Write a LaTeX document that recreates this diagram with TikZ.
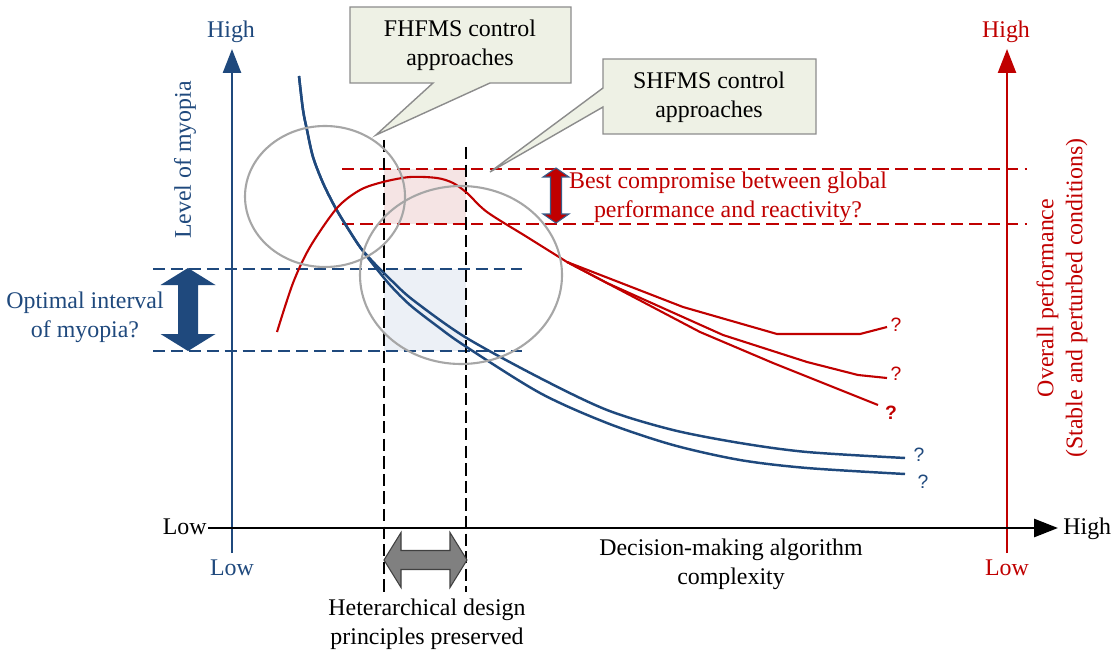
\documentclass[tikz,border=0pt]{standalone}
\usepackage{fontspec}
\setmainfont{Liberation Serif}
\newfontfamily\qmfont{Liberation Sans}
\usetikzlibrary{arrows.meta}
\definecolor{myblue}{RGB}{31,73,125}
\definecolor{myred}{RGB}{192,0,0}
\definecolor{ringgray}{RGB}{166,166,166}
\definecolor{notefill}{RGB}{238,241,229}
\definecolor{notedraw}{RGB}{140,140,140}
\definecolor{arrowblue}{RGB}{56,93,138}
\definecolor{pinkfill}{RGB}{245,228,228}
\definecolor{bluefill}{RGB}{236,240,246}
\definecolor{grayarrow}{RGB}{128,128,128}
\definecolor{grayedge}{RGB}{64,64,64}

\begin{document}
\begin{tikzpicture}[x=0.02cm,y=-0.02cm]
            \tikzset{
                txt/.style={font=\fontsize{13.6}{16.4}\selectfont,inner sep=0pt,align=center},
                qmark/.style={font=\qmfont\fontsize{11}{13}\selectfont,inner sep=0pt},
                axisline/.style={line width=1.4pt,-{Triangle[length=13.6pt,width=10.2pt]}},
                bluedash/.style={myblue,line width=0.7pt,dash pattern=on 6.8pt off 3.4pt},
                reddash/.style={myred,line width=0.7pt,dash pattern=on 7pt off 3.5pt},
                blackdash/.style={black,line width=0.7pt,dash pattern=on 7pt off 3pt},
                ring/.style={ringgray,line width=1.2pt},
                note/.style={fill=notefill,draw=notedraw,line width=0.8pt},
                bluecurve/.style={myblue,line width=1.4pt},
                redcurve/.style={myred,line width=1.2pt,line join=round},}
            \useasboundingbox (0,0) rectangle (1114,655);
            % shaded zones
            \fill [pinkfill] (384,169) rectangle (466,224);
            \fill [bluefill] (384,269) rectangle (466,351);
            % guide lines
            \coordinate (bdl1) at (153,269); \coordinate (bdr1) at (522,269);
            \coordinate (bdl2) at (153,351); \coordinate (bdr2) at (522,351);
            \draw [bluedash] (bdl1) -- (bdr1);
            \draw [bluedash] (bdl2) -- (bdr2);
            \coordinate (rdl1) at (342,169); \coordinate (rdr1) at (1027,169);
            \coordinate (rdl2) at (342,224); \coordinate (rdr2) at (1027,224);
            \draw [reddash] (rdl1) -- (rdr1);
            \draw [reddash] (rdl2) -- (rdr2);
            \coordinate (h1top) at (384,140); \coordinate (h1bot) at (384,592);
            \coordinate (h2top) at (466,147); \coordinate (h2bot) at (466,592);
            \draw [blackdash] (h1top) -- (h1bot);
            \draw [blackdash] (h2top) -- (h2bot);
            % myopia curves
            \draw [bluecurve] plot [smooth] coordinates {(299,76) (303,110) (307,130) (313,157) (323,183) (335,207) (347,227) (360,247) (375,264) (392,281) (413,300) (465,337) (540,378) (607,410) (673,430) (740,443) (807,452) (905,458)};
            \draw [bluecurve] plot [smooth] coordinates {(299,76) (303,110) (307,130) (313,157) (323,183) (335,207) (347,227) (360,247) (372,263) (390,285) (410,305) (437,326) (465,346) (540,393) (607,423) (673,445) (740,460) (807,468) (905,474)};
            % performance curves
            \draw [redcurve] plot [smooth] coordinates {(277,332) (293,283) (310,247) (337,208) (360,190) (383,182) (410,177) (437,178) (453,183) (467,193) (487,212) (527,237) (567,262)};
            \draw [redcurve] (567,262) -- (683,307) -- (777,334) -- (860,334) -- (887,327);
            \draw [redcurve] (567,262) -- (607,283) -- (723,335) -- (807,362) -- (858,375) -- (887,378);
            \draw [redcurve] (567,262) -- (700,332) -- (773,363) -- (878,405);
            % circles
            \draw [ring] (325,196.5) ellipse [x radius=80,y radius=70.5];
            \draw [ring] (461,275) ellipse [x radius=101,y radius=89];
            % axes
            \coordinate (o) at (208,528); \coordinate (xend) at (1058,528);
            \coordinate (lb) at (232,553); \coordinate (lt) at (232,49);
            \coordinate (rb) at (1007,553); \coordinate (rt) at (1007,49);
            \draw [axisline,myblue] (lb) -- (lt);
            \draw [axisline,myred] (rb) -- (rt);
            \draw [axisline,black,line width=1.6pt] (o) -- (xend);
            % callouts
            \draw [note] (350,7) -- (571,7) -- (571,83) -- (490,83) -- (376,135) -- (433,83) -- (350,83) -- cycle;
            \draw [note] (603,59) -- (816,59) -- (816,134) -- (603,134) -- (603,107) -- (490,172) -- (603,88) -- cycle;
            \node [txt] (fhfms) at (460,45) {FHFMS control\\approaches};
            \node [txt] (shfms) at (709,97) {SHFMS control\\approaches};
            % double arrows
            \fill [myblue] (188,268) -- (215.5,285) -- (198,285) -- (198,334) -- (215.5,334) -- (188,351) -- (160.5,334) -- (178,334) -- (178,285) -- (160.5,285) -- cycle;
            \draw [arrowblue,fill=myred,line width=0.6pt] (556,168) -- (569,177) -- (561.5,177) -- (561.5,214) -- (569,214) -- (556,223) -- (543,214) -- (550.5,214) -- (550.5,177) -- (543,177) -- cycle;
            \draw [grayedge,fill=grayarrow,line width=0.6pt] (384,560) -- (401,532.5) -- (401,550.5) -- (450,550.5) -- (450,532.5) -- (467,560) -- (450,587.5) -- (450,569.5) -- (401,569.5) -- (401,587.5) -- cycle;
            % labels
            \node [txt,myblue] (lhigh) at (231,32) {High};
            \node [txt,myblue] (llow) at (232,568) {Low};
            \node [txt,myred] (rhigh) at (1006,32) {High};
            \node [txt,myred] (rlow) at (1007,568) {Low};
            \node [txt,anchor=east] (xlow) at (207,527) {Low};
            \node [txt,anchor=west] (xhigh) at (1063,529) {High};
            \node [txt,myblue,rotate=90] (myopia) at (185,160) {Level of myopia};
            \node [txt,myred,rotate=90] (perf) at (1062,298) {Overall performance\\(Stable and perturbed conditions)};
            \node [txt,myblue] (optimal) at (85,317) {Optimal interval\\of myopia?};
            \node [txt,myred] (compromise) at (728,197) {Best compromise between global\\performance and reactivity?};
            \node [txt] (complexity) at (731,564) {Decision-making algorithm\\complexity};
            \node [txt] (hetero) at (427,624) {Heterarchical design\\principles preserved};
            % question marks
            \node [qmark,myred] (q1) at (896,325) {?};
            \node [qmark,myred] (q2) at (896,374) {?};
            \node [qmark,myred,font=\qmfont\bfseries\fontsize{11}{13}\selectfont] (q3) at (891,413) {?};
            \node [qmark,myblue] (q4) at (919,455) {?};
            \node [qmark,myblue] (q5) at (923,482) {?};
        \end{tikzpicture}
\end{document}
